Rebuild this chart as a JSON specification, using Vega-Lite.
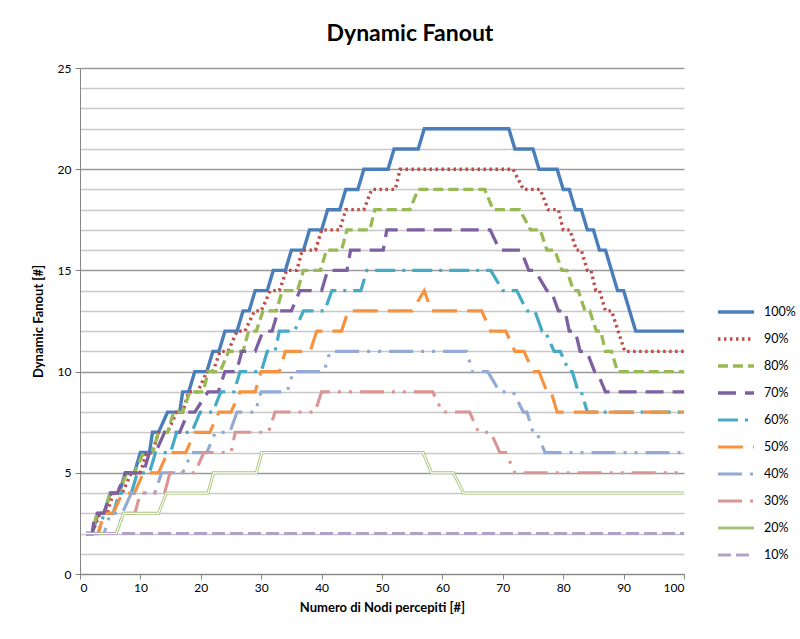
{
 "$schema": "https://vega.github.io/schema/vega-lite/v6.json",
 "width": 604, "height": 506,
 "autosize": {"type": "none"},
 "padding": {"left": 80, "top": 68, "right": 116, "bottom": 65},
 "background": "white",
 "title": {"text": "Dynamic Fanout", "font": "Lato", "fontSize": 23, "fontWeight": "bold", "color": "#000", "offset": 16, "dx": 28},
 "config": {"view": {"stroke": null}, "font": "Lato"},
 "datasets": {
  "v": [
   {"s":"100%","x":1,"y":2},{"s":"100%","x":2,"y":2},{"s":"100%","x":3,"y":3},{"s":"100%","x":4,"y":3},{"s":"100%","x":5,"y":4},{"s":"100%","x":6.5,"y":4},{"s":"100%","x":7.5,"y":5},{"s":"100%","x":9,"y":5},{"s":"100%","x":10,"y":6},{"s":"100%","x":11.5,"y":6},{"s":"100%","x":12,"y":7},{"s":"100%","x":13,"y":7},{"s":"100%","x":14.5,"y":8},{"s":"100%","x":16.5,"y":8},{"s":"100%","x":17,"y":9},{"s":"100%","x":18,"y":9},{"s":"100%","x":19,"y":10},{"s":"100%","x":21,"y":10},{"s":"100%","x":22,"y":11},{"s":"100%","x":23,"y":11},{"s":"100%","x":24,"y":12},{"s":"100%","x":26,"y":12},{"s":"100%","x":27,"y":13},{"s":"100%","x":28,"y":13},{"s":"100%","x":29,"y":14},{"s":"100%","x":31,"y":14},{"s":"100%","x":32,"y":15},{"s":"100%","x":34,"y":15},{"s":"100%","x":35,"y":16},{"s":"100%","x":37,"y":16},{"s":"100%","x":38,"y":17},{"s":"100%","x":40,"y":17},{"s":"100%","x":41,"y":18},{"s":"100%","x":43,"y":18},{"s":"100%","x":44,"y":19},{"s":"100%","x":46,"y":19},{"s":"100%","x":47,"y":20},{"s":"100%","x":51,"y":20},{"s":"100%","x":52,"y":21},{"s":"100%","x":56,"y":21},{"s":"100%","x":57,"y":22},{"s":"100%","x":71,"y":22},{"s":"100%","x":72,"y":21},{"s":"100%","x":75,"y":21},{"s":"100%","x":76,"y":20},{"s":"100%","x":79,"y":20},{"s":"100%","x":80,"y":19},{"s":"100%","x":81,"y":19},{"s":"100%","x":82,"y":18},{"s":"100%","x":83,"y":18},{"s":"100%","x":84,"y":17},{"s":"100%","x":85,"y":17},{"s":"100%","x":86,"y":16},{"s":"100%","x":87,"y":16},{"s":"100%","x":89,"y":14},{"s":"100%","x":90,"y":14},{"s":"100%","x":92,"y":12},{"s":"100%","x":100,"y":12},

   {"s":"90%","x":1,"y":2},{"s":"90%","x":2,"y":2},{"s":"90%","x":3.3,"y":3},{"s":"90%","x":4.5,"y":3},{"s":"90%","x":5.5,"y":4},{"s":"90%","x":7,"y":4},{"s":"90%","x":8.5,"y":5},{"s":"90%","x":10,"y":5},{"s":"90%","x":11,"y":6},{"s":"90%","x":12,"y":6},{"s":"90%","x":13,"y":7},{"s":"90%","x":14.5,"y":7},{"s":"90%","x":16,"y":8},{"s":"90%","x":17,"y":8},{"s":"90%","x":18,"y":9},{"s":"90%","x":19.5,"y":9},{"s":"90%","x":21,"y":10},{"s":"90%","x":22,"y":10},{"s":"90%","x":23.2,"y":11},{"s":"90%","x":24.5,"y":11},{"s":"90%","x":26,"y":12},{"s":"90%","x":27.3,"y":12},{"s":"90%","x":28.9,"y":13},{"s":"90%","x":30,"y":13},{"s":"90%","x":31.5,"y":14},{"s":"90%","x":33,"y":14},{"s":"90%","x":34.2,"y":15},{"s":"90%","x":35.9,"y":15},{"s":"90%","x":36.8,"y":16},{"s":"90%","x":39,"y":16},{"s":"90%","x":40,"y":17},{"s":"90%","x":43,"y":17},{"s":"90%","x":44,"y":18},{"s":"90%","x":47,"y":18},{"s":"90%","x":48.3,"y":19},{"s":"90%","x":52.2,"y":19},{"s":"90%","x":53,"y":20},{"s":"90%","x":71.7,"y":20},{"s":"90%","x":73.4,"y":19},{"s":"90%","x":76.2,"y":19},{"s":"90%","x":77.5,"y":18},{"s":"90%","x":79.2,"y":18},{"s":"90%","x":80,"y":17},{"s":"90%","x":81.1,"y":17},{"s":"90%","x":82.2,"y":16},{"s":"90%","x":83,"y":16},{"s":"90%","x":84,"y":15},{"s":"90%","x":84.6,"y":15},{"s":"90%","x":85.4,"y":14},{"s":"90%","x":86,"y":14},{"s":"90%","x":87,"y":13},{"s":"90%","x":88,"y":13},{"s":"90%","x":90.2,"y":11},{"s":"90%","x":100,"y":11},

   {"s":"80%","x":1,"y":2},{"s":"80%","x":2,"y":2},{"s":"80%","x":2.8,"y":3},{"s":"80%","x":4,"y":3},{"s":"80%","x":5,"y":4},{"s":"80%","x":6.5,"y":4},{"s":"80%","x":7.7,"y":5},{"s":"80%","x":9,"y":5},{"s":"80%","x":10.5,"y":6},{"s":"80%","x":12,"y":6},{"s":"80%","x":13,"y":7},{"s":"80%","x":14.5,"y":7},{"s":"80%","x":15.5,"y":8},{"s":"80%","x":17,"y":8},{"s":"80%","x":18.2,"y":9},{"s":"80%","x":20.4,"y":9},{"s":"80%","x":21.2,"y":10},{"s":"80%","x":23.2,"y":10},{"s":"80%","x":24.6,"y":11},{"s":"80%","x":27,"y":11},{"s":"80%","x":27.9,"y":12},{"s":"80%","x":29.2,"y":12},{"s":"80%","x":30.3,"y":13},{"s":"80%","x":32.5,"y":13},{"s":"80%","x":33.5,"y":14},{"s":"80%","x":36,"y":14},{"s":"80%","x":37,"y":15},{"s":"80%","x":39.8,"y":15},{"s":"80%","x":40.8,"y":16},{"s":"80%","x":43.3,"y":16},{"s":"80%","x":44.2,"y":17},{"s":"80%","x":48,"y":17},{"s":"80%","x":48.8,"y":18},{"s":"80%","x":54.6,"y":18},{"s":"80%","x":56,"y":19},{"s":"80%","x":67,"y":19},{"s":"80%","x":68.4,"y":18},{"s":"80%","x":72.8,"y":18},{"s":"80%","x":74.6,"y":17},{"s":"80%","x":76.2,"y":17},{"s":"80%","x":77.3,"y":16},{"s":"80%","x":78.6,"y":16},{"s":"80%","x":79.8,"y":15},{"s":"80%","x":80.6,"y":15},{"s":"80%","x":81.7,"y":14},{"s":"80%","x":82.5,"y":14},{"s":"80%","x":83.6,"y":13},{"s":"80%","x":84.4,"y":13},{"s":"80%","x":85.5,"y":12},{"s":"80%","x":86.2,"y":12},{"s":"80%","x":87,"y":11},{"s":"80%","x":88,"y":11},{"s":"80%","x":89,"y":10},{"s":"80%","x":100,"y":10},

   {"s":"70%","x":1,"y":2},{"s":"70%","x":2,"y":2},{"s":"70%","x":2.5,"y":3},{"s":"70%","x":3.9,"y":3},{"s":"70%","x":5.2,"y":4},{"s":"70%","x":6.2,"y":4},{"s":"70%","x":7.5,"y":5},{"s":"70%","x":10.5,"y":5},{"s":"70%","x":11.5,"y":6},{"s":"70%","x":12.5,"y":6},{"s":"70%","x":14,"y":7},{"s":"70%","x":16.5,"y":7},{"s":"70%","x":17.9,"y":8},{"s":"70%","x":19,"y":8},{"s":"70%","x":21.2,"y":9},{"s":"70%","x":22.9,"y":9},{"s":"70%","x":24,"y":10},{"s":"70%","x":25.9,"y":10},{"s":"70%","x":26.8,"y":11},{"s":"70%","x":29,"y":11},{"s":"70%","x":30.3,"y":12},{"s":"70%","x":31.8,"y":12},{"s":"70%","x":32.8,"y":13},{"s":"70%","x":35,"y":13},{"s":"70%","x":36.4,"y":14},{"s":"70%","x":40,"y":14},{"s":"70%","x":41,"y":15},{"s":"70%","x":44.2,"y":15},{"s":"70%","x":44.8,"y":16},{"s":"70%","x":50.2,"y":16},{"s":"70%","x":50.8,"y":17},{"s":"70%","x":67.9,"y":17},{"s":"70%","x":69.5,"y":16},{"s":"70%","x":73,"y":16},{"s":"70%","x":74.3,"y":15},{"s":"70%","x":75.3,"y":15},{"s":"70%","x":77.3,"y":14},{"s":"70%","x":78,"y":14},{"s":"70%","x":79.2,"y":13},{"s":"70%","x":80.3,"y":13},{"s":"70%","x":81,"y":12},{"s":"70%","x":82,"y":12},{"s":"70%","x":82.8,"y":11},{"s":"70%","x":83.9,"y":11},{"s":"70%","x":85.2,"y":10},{"s":"70%","x":85.6,"y":10},{"s":"70%","x":87,"y":9},{"s":"70%","x":100,"y":9},

   {"s":"60%","x":1,"y":2},{"s":"60%","x":3,"y":2},{"s":"60%","x":4,"y":3},{"s":"60%","x":5.5,"y":3},{"s":"60%","x":6.5,"y":4},{"s":"60%","x":8.5,"y":4},{"s":"60%","x":9.5,"y":5},{"s":"60%","x":11.5,"y":5},{"s":"60%","x":12.5,"y":6},{"s":"60%","x":15,"y":6},{"s":"60%","x":16,"y":7},{"s":"60%","x":18.5,"y":7},{"s":"60%","x":19.9,"y":8},{"s":"60%","x":22,"y":8},{"s":"60%","x":23.3,"y":9},{"s":"60%","x":25.5,"y":9},{"s":"60%","x":26.5,"y":10},{"s":"60%","x":30,"y":10},{"s":"60%","x":31,"y":11},{"s":"60%","x":32.3,"y":11},{"s":"60%","x":33,"y":12},{"s":"60%","x":35.5,"y":12},{"s":"60%","x":37,"y":13},{"s":"60%","x":40.5,"y":13},{"s":"60%","x":41.7,"y":14},{"s":"60%","x":46.5,"y":14},{"s":"60%","x":47.5,"y":15},{"s":"60%","x":68,"y":15},{"s":"60%","x":70,"y":14},{"s":"60%","x":72.3,"y":14},{"s":"60%","x":74,"y":13},{"s":"60%","x":75.3,"y":13},{"s":"60%","x":76.5,"y":12},{"s":"60%","x":77,"y":12},{"s":"60%","x":78.5,"y":11},{"s":"60%","x":79.5,"y":11},{"s":"60%","x":81,"y":10},{"s":"60%","x":81.5,"y":10},{"s":"60%","x":82.5,"y":9},{"s":"60%","x":83,"y":9},{"s":"60%","x":84,"y":8},{"s":"60%","x":100,"y":8},

   {"s":"50%","x":1,"y":2},{"s":"50%","x":3,"y":2},{"s":"50%","x":4,"y":3},{"s":"50%","x":5.5,"y":3},{"s":"50%","x":7,"y":4},{"s":"50%","x":9,"y":4},{"s":"50%","x":10.5,"y":5},{"s":"50%","x":13,"y":5},{"s":"50%","x":14.5,"y":6},{"s":"50%","x":17.5,"y":6},{"s":"50%","x":19,"y":7},{"s":"50%","x":21.5,"y":7},{"s":"50%","x":23,"y":8},{"s":"50%","x":25,"y":8},{"s":"50%","x":26.5,"y":9},{"s":"50%","x":29,"y":9},{"s":"50%","x":30,"y":10},{"s":"50%","x":33,"y":10},{"s":"50%","x":34,"y":11},{"s":"50%","x":38.1,"y":11},{"s":"50%","x":39.2,"y":12},{"s":"50%","x":43.3,"y":12},{"s":"50%","x":44.4,"y":13},{"s":"50%","x":55,"y":13},{"s":"50%","x":57,"y":14},{"s":"50%","x":58.2,"y":13},{"s":"50%","x":66.5,"y":13},{"s":"50%","x":68,"y":12},{"s":"50%","x":70.5,"y":12},{"s":"50%","x":72,"y":11},{"s":"50%","x":73.5,"y":11},{"s":"50%","x":75,"y":10},{"s":"50%","x":76,"y":10},{"s":"50%","x":77.3,"y":9},{"s":"50%","x":78,"y":9},{"s":"50%","x":79,"y":8},{"s":"50%","x":100,"y":8},

   {"s":"40%","x":1,"y":2},{"s":"40%","x":4,"y":2},{"s":"40%","x":5,"y":3},{"s":"40%","x":7,"y":3},{"s":"40%","x":8.5,"y":4},{"s":"40%","x":12.4,"y":4},{"s":"40%","x":13.5,"y":5},{"s":"40%","x":17,"y":5},{"s":"40%","x":18.5,"y":6},{"s":"40%","x":21,"y":6},{"s":"40%","x":22.4,"y":7},{"s":"40%","x":24.8,"y":7},{"s":"40%","x":26,"y":8},{"s":"40%","x":29,"y":8},{"s":"40%","x":30,"y":9},{"s":"40%","x":34.3,"y":9},{"s":"40%","x":35.3,"y":10},{"s":"40%","x":40.4,"y":10},{"s":"40%","x":41.4,"y":11},{"s":"40%","x":64,"y":11},{"s":"40%","x":65,"y":10},{"s":"40%","x":67.5,"y":10},{"s":"40%","x":69.5,"y":9},{"s":"40%","x":71.7,"y":9},{"s":"40%","x":73.4,"y":8},{"s":"40%","x":74,"y":8},{"s":"40%","x":75,"y":7},{"s":"40%","x":75.6,"y":7},{"s":"40%","x":77,"y":6},{"s":"40%","x":100,"y":6},

   {"s":"30%","x":1,"y":2},{"s":"30%","x":6,"y":2},{"s":"30%","x":7.2,"y":3},{"s":"30%","x":9.1,"y":3},{"s":"30%","x":10,"y":4},{"s":"30%","x":14,"y":4},{"s":"30%","x":14.9,"y":5},{"s":"30%","x":19,"y":5},{"s":"30%","x":20.5,"y":6},{"s":"30%","x":25,"y":6},{"s":"30%","x":25.7,"y":7},{"s":"30%","x":31.2,"y":7},{"s":"30%","x":32.3,"y":8},{"s":"30%","x":38.9,"y":8},{"s":"30%","x":40,"y":9},{"s":"30%","x":58.4,"y":9},{"s":"30%","x":60,"y":8},{"s":"30%","x":64.5,"y":8},{"s":"30%","x":66,"y":7},{"s":"30%","x":68,"y":7},{"s":"30%","x":69.5,"y":6},{"s":"30%","x":70.5,"y":6},{"s":"30%","x":72,"y":5},{"s":"30%","x":100,"y":5},

   {"s":"20%","x":1,"y":2},{"s":"20%","x":6,"y":2},{"s":"20%","x":7.2,"y":3},{"s":"20%","x":13,"y":3},{"s":"20%","x":14.3,"y":4},{"s":"20%","x":21.2,"y":4},{"s":"20%","x":22.1,"y":5},{"s":"20%","x":29.2,"y":5},{"s":"20%","x":30.1,"y":6},{"s":"20%","x":56.8,"y":6},{"s":"20%","x":58.2,"y":5},{"s":"20%","x":61.8,"y":5},{"s":"20%","x":63.5,"y":4},{"s":"20%","x":100,"y":4},

   {"s":"10%","x":1,"y":2},{"s":"10%","x":100,"y":2}
  ]
 },
 "data": {"name": "v"},
 "encoding": {
  "x": {"field": "x", "type": "quantitative", "scale": {"domain": [0, 100], "nice": false, "zero": false},
   "axis": {"values": [0,10,20,30,40,50,60,70,80,90,100], "grid": false, "title": "Numero di Nodi percepiti [#]",
    "domainColor": "#868686", "tickColor": "#868686", "tickSize": 5, "labelFontSize": 12, "labelColor": "#000", "labelPadding": 3,
    "titleFontSize": 13, "titleFontWeight": "bold", "titleColor": "#000", "titlePadding": 8}},
  "y": {"field": "y", "type": "quantitative", "scale": {"domain": [0, 25], "nice": false},
   "axis": {"values": [0,1,2,3,4,5,6,7,8,9,10,11,12,13,14,15,16,17,18,19,20,21,22,23,24,25],
    "labelExpr": "datum.value % 5 === 0 ? datum.label : ''",
    "gridColor": {"condition": {"test": "datum.value % 5 === 0", "value": "#9a9a9a"}, "value": "#c8c8c8"},
    "gridWidth": 1.3,
    "tickOpacity": {"condition": {"test": "datum.value % 5 === 0", "value": 1}, "value": 0},
    "tickColor": "#868686", "tickSize": 5, "domainColor": "#868686",
    "title": "Dynamic Fanout  [#]", "labelFontSize": 12, "labelColor": "#000", "labelPadding": 4,
    "titleFontSize": 13, "titleFontWeight": "bold", "titleColor": "#000", "titlePadding": 12}}
 },
 "layer": [
  {
   "mark": {"type": "line", "strokeCap": "butt", "strokeJoin": "miter"},
   "encoding": {
    "color": {"field": "s", "type": "nominal",
     "scale": {"domain": ["100%","90%","80%","70%","60%","50%","40%","30%","20%","10%"],
      "range": ["#4A7EBB","#BE4B48","#98B954","#7D60A0","#46AAC5","#F69240","#93AAD4","#D99694","#A9C57B","#B3A2C7"]},
     "legend": {"title": null, "orient": "none", "legendX": 636, "legendY": 224, "symbolType": "stroke", "symbolSize": 1300,
      "symbolStrokeWidth": 3, "labelFontSize": 12.5, "labelColor": "#000", "rowPadding": 0, "labelOffset": 8}},
    "strokeDash": {"field": "s", "type": "nominal",
     "scale": {"domain": ["100%","90%","80%","70%","60%","50%","40%","30%","20%","10%"],
      "range": [[1,0],[2.5,3.5],[10,5],[18,9],[20,7,3,7],[25,10],[24,8,3,8,3,8],[24,8,3,8,3,8],[1,0],[13,5]]},
     "legend": {"title": null, "orient": "none", "legendX": 636, "legendY": 224, "symbolType": "stroke", "symbolSize": 1300,
      "symbolStrokeWidth": 3, "labelFontSize": 12.5, "labelColor": "#000", "rowPadding": 0, "labelOffset": 8}},
    "strokeWidth": {"field": "s", "type": "nominal",
     "scale": {"domain": ["100%","90%","80%","70%","60%","50%","40%","30%","20%","10%"],
      "range": [3.4,3,3,3,3,3,3,3,5.5,3]}, "legend": null}
   }
  },
  {
   "transform": [{"filter": "datum.s === '20%'"}],
   "mark": {"type": "line", "color": "white", "strokeWidth": 1.2}
  }
 ]
}
